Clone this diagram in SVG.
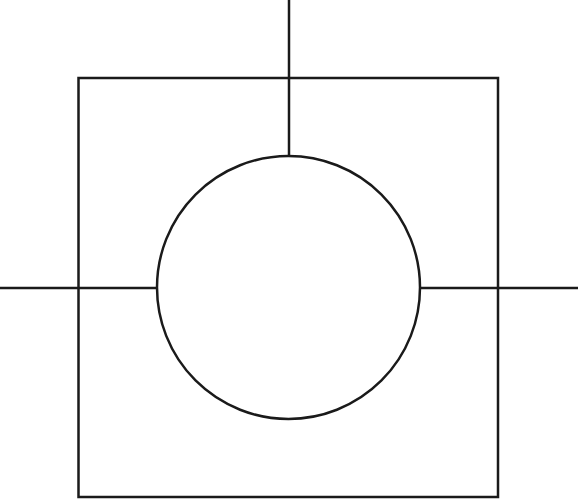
<svg xmlns="http://www.w3.org/2000/svg" width="578" height="500" viewBox="0 0 578 500">
<style>.s{fill:none;stroke:#1a1a1a;stroke-width:2.5}</style>
<rect width="578" height="500" fill="#fff"/>
<g id="connectors">
<line class="s" x1="289" y1="0" x2="289" y2="156"/>
<line class="s" x1="0" y1="288" x2="157" y2="288"/>
<line class="s" x1="420" y1="288" x2="578" y2="288"/>
</g>
<g id="square"><rect class="s" x="78.5" y="78" width="419.5" height="419"/></g>
<g id="circle"><circle class="s" cx="288.5" cy="287.5" r="131.5"/></g>
</svg>
